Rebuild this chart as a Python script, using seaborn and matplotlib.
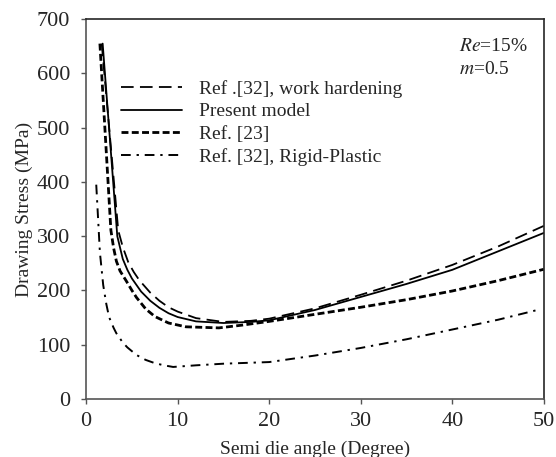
import matplotlib
matplotlib.use("Agg")
import matplotlib.pyplot as plt
import pandas as pd
import seaborn as sns

# Drawing stress vs semi die angle, Re=15%, m=0.5
angle_wh = [1.7, 3.5, 4.0, 4.6, 5.2, 5.8, 7, 8, 9, 10, 12, 15, 18, 20, 25, 30, 35, 40, 45, 50]
stress_wh = [655, 311, 280, 252, 234, 219, 196, 181, 169, 161, 149, 142, 144, 148, 167, 192, 218, 247, 281, 319]

angle_pm = [1.8, 3.4, 4.0, 4.5, 5.0, 6, 7, 8, 9, 10, 12, 15, 18, 20, 25, 30, 35, 40, 45, 50]
stress_pm = [655, 300, 258, 238, 222, 198, 181, 168, 158, 151, 143, 140, 142, 145, 164, 188, 212, 238, 272, 306]

angle_23 = [1.5, 2.7, 3.0, 3.3, 3.7, 4.4, 5.0, 5.5, 6.5, 7.5, 9, 10.9, 14.5, 17, 20, 25, 30, 35, 40, 45, 50]
stress_23 = [655, 311, 278, 254, 236, 217, 200, 187, 166, 152, 140, 133, 131, 136, 143, 156, 169, 183, 199, 218, 239]

angle_rp = [1.1, 1.5, 1.86, 2.2, 2.5, 3.0, 3.3, 4.0, 4.5, 5.5, 6.5, 7.5, 8.5, 9.5, 12, 15, 20, 25, 30, 35, 40, 45, 49.3]
stress_rp = [395, 270, 210, 175, 151, 131, 121, 104, 95, 81, 72, 66, 62, 59, 62, 65, 68, 80, 94, 110, 128, 146, 164]

labels = ["Ref .[32], work hardening", "Present model", "Ref. [23]",
          "Ref. [32], Rigid-Plastic"]

sns.set_style("ticks")
plt.rcParams["font.family"] = ["Liberation Serif", "DejaVu Serif"]
plt.rcParams["mathtext.fontset"] = "stix"

fig = plt.figure(figsize=(5.56, 4.57), dpi=100)
ax = fig.add_axes([0.155, 0.127, 0.823, 0.831])

sns.lineplot(x=angle_wh, y=stress_wh, ax=ax, color="black", lw=1.3,
             label=labels[0], estimator=None, sort=False)
ax.lines[-1].set_dashes([7, 3.5])
sns.lineplot(x=angle_pm, y=stress_pm, ax=ax, color="black", lw=1.3,
             label=labels[1], estimator=None, sort=False)
sns.lineplot(x=angle_23, y=stress_23, ax=ax, color="black", lw=2.0,
             label=labels[2], estimator=None, sort=False)
ax.lines[-1].set_dashes([2.5, 1.2])
sns.lineplot(x=angle_rp, y=stress_rp, ax=ax, color="black", lw=1.4,
             label=labels[3], estimator=None, sort=False)
ax.lines[-1].set_dashes([5, 3, 1.2, 3])

ax.set_xlim(0, 50)
ax.set_ylim(0, 700)
ax.set_xticks(range(0, 51, 10))
ax.set_yticks(range(0, 701, 100))
ax.tick_params(labelsize=16, direction="out", length=3.6, width=1, color="#555555")
ax.tick_params(axis="y", pad=8)
ax.tick_params(axis="x", pad=6)
for s in ax.spines.values():
    s.set_visible(True)
    s.set_linewidth(1.2)
ax.spines["left"].set_color("#555555")
ax.spines["bottom"].set_color("#555555")

ax.set_xlabel("Semi die angle (Degree)", fontsize=14, labelpad=7)
ax.set_ylabel("Drawing Stress (MPa)", fontsize=14, labelpad=3)

ax.legend(loc="upper left", bbox_to_anchor=(0.06, 0.86), frameon=False,
          fontsize=14, handlelength=3.1, handletextpad=0.9, labelspacing=0.25,
          borderaxespad=0)

ax.text(0.815, 0.95, r"$\mathit{Re}$=15%", transform=ax.transAxes,
        fontsize=14, va="top", ha="left")
ax.text(0.815, 0.89, r"$\mathit{m}$=0.5", transform=ax.transAxes,
        fontsize=14, va="top", ha="left")

fig.savefig("out.png", dpi=100)
